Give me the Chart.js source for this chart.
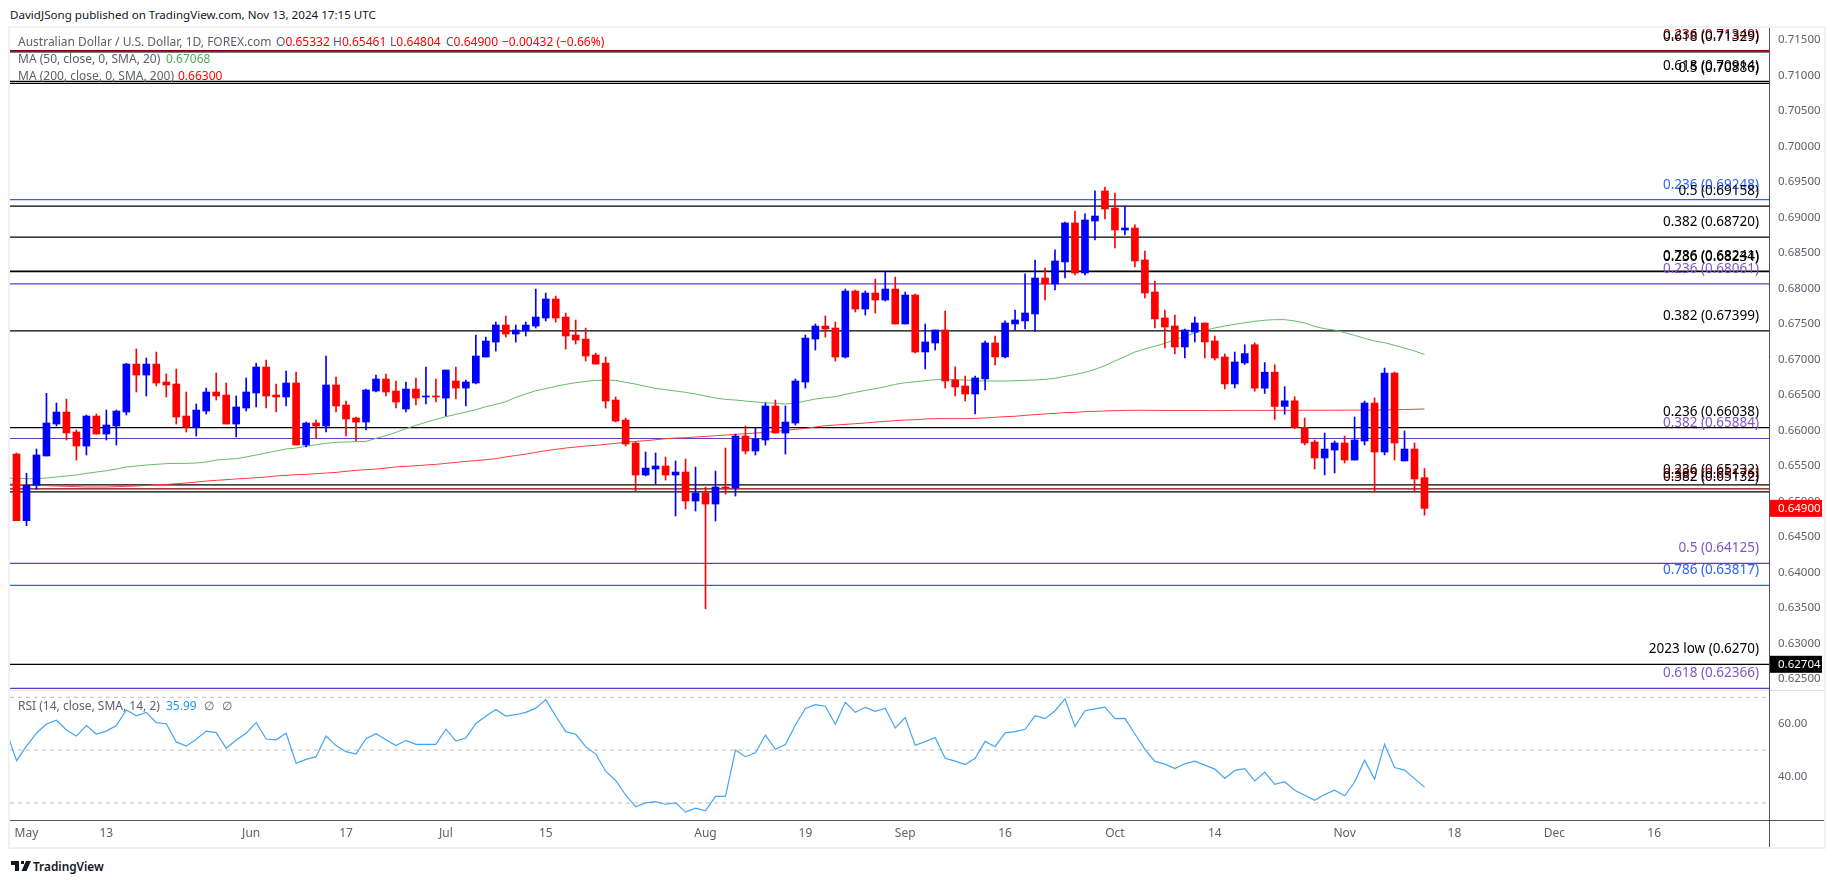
<!DOCTYPE html>
<html>
<head>
<meta charset="utf-8">
<script src="https://cdn.jsdelivr.net/npm/chart.js@4"></script>
<style>
	html, body { margin: 0; padding: 0; background: #fff; overflow: hidden; }
	body { width: 1835px; height: 883px; position: relative; font-family: "Noto Sans", sans-serif; }
	canvas { position: absolute; left: 10px; }
	.t { position: absolute; white-space: nowrap; line-height: 16px; font-size: 12px; color: #5d606b; }
	.r { color: #ff0000; }
	.bar { position: absolute; background: #f0f0f6; }
</style>
</head>
<body>
<div class="bar" style="left:8px;top:26px;width:1818px;height:2px"></div>
<div class="bar" style="left:8px;top:26px;width:2px;height:823px"></div>
<div class="bar" style="left:1824px;top:26px;width:2px;height:823px"></div>
<div class="bar" style="left:8px;top:847px;width:1818px;height:2px"></div>
<div class="bar" style="left:10px;top:690px;width:1814px;height:1px;background:#e0e3eb"></div>
<div class="bar" style="left:1769px;top:820px;width:1px;height:27px;background:#50535e"></div>
<div class="bar" style="left:1769px;top:820px;width:55px;height:1px;background:#50535e"></div>
<canvas id="price_chart" width="1814" height="662" style="top:28px"></canvas>
<canvas id="rsi_chart" width="1814" height="157" style="top:690px"></canvas>

<div class="t" style="left:10px;top:7px;color:#131722;font-size:11.6px">DavidJSong published on TradingView.com, Nov 13, 2024 17:15 UTC</div>
<div class="t" style="left:18px;top:34px">Australian Dollar / U.S. Dollar, 1D, FOREX.com</div>
<div class="t" style="left:276px;top:34px">O<span class="r">0.65332</span></div>
<div class="t" style="left:333px;top:34px">H<span class="r">0.65461</span></div>
<div class="t" style="left:390px;top:34px">L<span class="r">0.64804</span></div>
<div class="t" style="left:446px;top:34px">C<span class="r">0.64900</span></div>
<div class="t r" style="left:502px;top:34px">−0.00432 (−0.66%)</div>
<div class="t" style="left:18px;top:51px">MA (50, close, 0, SMA, 20)</div>
<div class="t" style="left:166px;top:51px;color:#4caf50">0.67068</div>
<div class="t" style="left:18px;top:68px">MA (200, close, 0, SMA, 200)</div>
<div class="t r" style="left:178px;top:68px">0.66300</div>
<div class="t" style="left:18px;top:698px">RSI (14, close, SMA, 14, 2)</div>
<div class="t" style="left:166px;top:698px;color:#2196f3">35.99</div>
<div class="t" style="left:204px;top:698px">∅</div>
<div class="t" style="left:222px;top:698px">∅</div>

<svg style="position:absolute;left:11px;top:860px" width="20" height="12" viewBox="0 0 20 12">
	<path d="M0 1h8v10H4V5H0z M10 1h3v3h-3z" fill="#131722"/>
	<path d="M15 1h5l-4.5 10h-5z" fill="#131722"/>
</svg>
<div class="t" style="left:33px;top:858px;color:#131722;font-weight:600;font-size:11.8px">TradingView</div>

<script>
const opens = [
	0.65666, 0.64727, 0.65224, 0.65638, 0.66088, 0.66257, 0.65976, 0.65778, 0.66201, 0.65947,
	0.66060, 0.66257, 0.66933, 0.66778, 0.66933, 0.66680, 0.66652, 0.66201, 0.66041, 0.66271,
	0.66539, 0.66497, 0.66088, 0.66314, 0.66525, 0.66891, 0.66497, 0.66469, 0.66666, 0.65793,
	0.66102, 0.66060, 0.66638, 0.66356, 0.66173, 0.66116, 0.66553, 0.66722, 0.66553, 0.66300,
	0.66581, 0.66469, 0.66483, 0.66454, 0.66694, 0.66595, 0.66666, 0.67032, 0.67243, 0.67483,
	0.67356, 0.67398, 0.67468, 0.67581, 0.67849, 0.67595, 0.67342, 0.67285, 0.67060, 0.66947,
	0.66426, 0.66144, 0.65820, 0.65370, 0.65454, 0.65497, 0.65370, 0.65412, 0.65004, 0.65116,
	0.64961, 0.65201, 0.65187, 0.65919, 0.65708, 0.65863, 0.66342, 0.65961, 0.66102, 0.66680,
	0.67285, 0.67468, 0.67440, 0.67032, 0.67961, 0.67708, 0.67933, 0.67835, 0.67989, 0.67497,
	0.67905, 0.67103, 0.67230, 0.67413, 0.66709, 0.66624, 0.66511, 0.66723, 0.67230, 0.67033,
	0.67497, 0.67540, 0.67638, 0.68145, 0.68061, 0.68371, 0.68920, 0.68216, 0.68948, 0.69371,
	0.69131, 0.68821, 0.68849, 0.68399, 0.67948, 0.67582, 0.67469, 0.67173, 0.67385, 0.67511,
	0.67258, 0.67033, 0.66652, 0.66949, 0.67205, 0.66593, 0.66818, 0.66336, 0.66415, 0.66042,
	0.65835, 0.65610, 0.65722, 0.65821, 0.65581, 0.65849, 0.66384, 0.65694, 0.66806, 0.65568,
	0.65736, 0.65332
];
const highs = [
	0.65680, 0.65393, 0.65736, 0.66520, 0.66384, 0.66440, 0.66004, 0.66215, 0.66229, 0.66285,
	0.66285, 0.66943, 0.67145, 0.67018, 0.67102, 0.66793, 0.66863, 0.66539, 0.66370, 0.66595,
	0.66807, 0.66666, 0.66483, 0.66736, 0.66947, 0.66990, 0.66652, 0.66835, 0.66821, 0.66116,
	0.66145, 0.67046, 0.66750, 0.66412, 0.66187, 0.66581, 0.66778, 0.66793, 0.66694, 0.66680,
	0.66736, 0.66891, 0.66722, 0.66849, 0.66891, 0.66708, 0.67342, 0.67314, 0.67525, 0.67609,
	0.67482, 0.67525, 0.67989, 0.67933, 0.67891, 0.67651, 0.67553, 0.67440, 0.67088, 0.67032,
	0.66468, 0.66173, 0.65835, 0.65694, 0.65680, 0.65623, 0.65567, 0.65595, 0.65482, 0.65201,
	0.65426, 0.65750, 0.65947, 0.66060, 0.66032, 0.66384, 0.66426, 0.66342, 0.66722, 0.67342,
	0.67497, 0.67609, 0.67525, 0.67989, 0.67975, 0.67961, 0.68130, 0.68243, 0.68158, 0.67947,
	0.67919, 0.67497, 0.67413, 0.67680, 0.66892, 0.66765, 0.66765, 0.67258, 0.67328, 0.67540,
	0.67694, 0.68202, 0.68399, 0.68286, 0.68540, 0.68934, 0.69089, 0.69047, 0.69371, 0.69427,
	0.69342, 0.69159, 0.68892, 0.68525, 0.68103, 0.67694, 0.67624, 0.67427, 0.67596, 0.67511,
	0.67328, 0.67075, 0.67103, 0.67205, 0.67231, 0.66954, 0.66923, 0.66614, 0.66472, 0.66173,
	0.65863, 0.65962, 0.65849, 0.65920, 0.66187, 0.66412, 0.66455, 0.66877, 0.66821, 0.65990,
	0.65821, 0.65461
];
const lows = [
	0.64727, 0.64656, 0.65168, 0.65638, 0.66060, 0.65863, 0.65581, 0.65652, 0.65947, 0.65863,
	0.65793, 0.66215, 0.66539, 0.66483, 0.66624, 0.66469, 0.66088, 0.65976, 0.65919, 0.66229,
	0.66426, 0.66088, 0.65905, 0.66271, 0.66328, 0.66314, 0.66257, 0.66342, 0.65793, 0.65764,
	0.65891, 0.65976, 0.66257, 0.65919, 0.65849, 0.66004, 0.66539, 0.66483, 0.66314, 0.66257,
	0.66356, 0.66370, 0.66398, 0.66201, 0.66440, 0.66342, 0.66652, 0.67032, 0.67116, 0.67314,
	0.67243, 0.67328, 0.67440, 0.67539, 0.67525, 0.67144, 0.67215, 0.66975, 0.66933, 0.66313,
	0.66116, 0.65778, 0.65144, 0.65356, 0.65243, 0.65299, 0.64792, 0.64891, 0.64863, 0.63487,
	0.64722, 0.65102, 0.65074, 0.65666, 0.65651, 0.65792, 0.65961, 0.65666, 0.66074, 0.66595,
	0.67130, 0.67313, 0.66975, 0.67018, 0.67666, 0.67623, 0.67651, 0.67820, 0.67497, 0.67497,
	0.67088, 0.66863, 0.67131, 0.66596, 0.66483, 0.66413, 0.66230, 0.66568, 0.66920, 0.67018,
	0.67413, 0.67427, 0.67394, 0.67835, 0.67976, 0.68145, 0.68187, 0.68187, 0.68680, 0.68976,
	0.68568, 0.68751, 0.68300, 0.67863, 0.67441, 0.67159, 0.67075, 0.67018, 0.67244, 0.67018,
	0.66990, 0.66582, 0.66596, 0.66928, 0.66551, 0.66519, 0.66153, 0.66226, 0.66022, 0.65793,
	0.65455, 0.65371, 0.65398, 0.65539, 0.65581, 0.65793, 0.65131, 0.65652, 0.65581, 0.65568,
	0.65145, 0.64804
];
const closes = [
	0.64727, 0.65224, 0.65652, 0.66102, 0.66257, 0.65962, 0.65778, 0.66201, 0.65947, 0.66074,
	0.66271, 0.66933, 0.66778, 0.66933, 0.66666, 0.66638, 0.66187, 0.66041, 0.66285, 0.66539,
	0.66483, 0.66088, 0.66328, 0.66539, 0.66891, 0.66483, 0.66469, 0.66666, 0.65793, 0.66102,
	0.66060, 0.66638, 0.66342, 0.66159, 0.66116, 0.66567, 0.66722, 0.66539, 0.66398, 0.66581,
	0.66454, 0.66483, 0.66469, 0.66849, 0.66595, 0.66680, 0.67046, 0.67257, 0.67483, 0.67356,
	0.67412, 0.67482, 0.67595, 0.67849, 0.67581, 0.67328, 0.67271, 0.67046, 0.66933, 0.66412,
	0.66130, 0.65806, 0.65370, 0.65468, 0.65497, 0.65370, 0.65412, 0.65004, 0.65116, 0.64961,
	0.65201, 0.65187, 0.65919, 0.65708, 0.65877, 0.66342, 0.65961, 0.66116, 0.66694, 0.67299,
	0.67468, 0.67426, 0.67032, 0.67961, 0.67708, 0.67933, 0.67835, 0.67989, 0.67497, 0.67905,
	0.67102, 0.67244, 0.67413, 0.66694, 0.66610, 0.66511, 0.66737, 0.67230, 0.67033, 0.67511,
	0.67554, 0.67652, 0.68145, 0.68061, 0.68385, 0.68920, 0.68216, 0.68962, 0.69018, 0.69117,
	0.68821, 0.68849, 0.68385, 0.67934, 0.67568, 0.67455, 0.67173, 0.67413, 0.67511, 0.67244,
	0.67018, 0.66652, 0.66962, 0.67080, 0.66593, 0.66818, 0.66336, 0.66415, 0.66038, 0.65821,
	0.65610, 0.65736, 0.65821, 0.65581, 0.65863, 0.66384, 0.65694, 0.66806, 0.65821, 0.65736,
	0.65314, 0.64900
];
// the averages and the RSI start one bar before the first candle
const ma_50 = [
	0.65328, 0.65323, 0.65318, 0.65318, 0.65328, 0.65342, 0.65356, 0.65370, 0.65393, 0.65412,
	0.65431, 0.65454, 0.65483, 0.65497, 0.65511, 0.65520, 0.65530, 0.65534, 0.65534, 0.65539,
	0.65553, 0.65581, 0.65591, 0.65600, 0.65624, 0.65652, 0.65680, 0.65708, 0.65736, 0.65750,
	0.65774, 0.65797, 0.65816, 0.65830, 0.65835, 0.65839, 0.65844, 0.65886, 0.65924, 0.65971,
	0.66023, 0.66069, 0.66112, 0.66154, 0.66192, 0.66224, 0.66257, 0.66290, 0.66332, 0.66365,
	0.66403, 0.66464, 0.66511, 0.66558, 0.66586, 0.66619, 0.66647, 0.66670, 0.66689, 0.66703,
	0.66703, 0.66703, 0.66675, 0.66651, 0.66619, 0.66590, 0.66572, 0.66553, 0.66534, 0.66511,
	0.66482, 0.66454, 0.66435, 0.66426, 0.66412, 0.66398, 0.66388, 0.66379, 0.66370, 0.66384,
	0.66412, 0.66440, 0.66459, 0.66473, 0.66506, 0.66534, 0.66562, 0.66586, 0.66614, 0.66647,
	0.66670, 0.66684, 0.66699, 0.66713, 0.66713, 0.66713, 0.66708, 0.66699, 0.66694, 0.66694,
	0.66694, 0.66699, 0.66704, 0.66708, 0.66718, 0.66732, 0.66760, 0.66784, 0.66816, 0.66859,
	0.66910, 0.66976, 0.67037, 0.67103, 0.67145, 0.67183, 0.67225, 0.67272, 0.67324, 0.67370,
	0.67408, 0.67441, 0.67469, 0.67493, 0.67515, 0.67535, 0.67550, 0.67558, 0.67558, 0.67540,
	0.67510, 0.67465, 0.67430, 0.67412, 0.67375, 0.67337, 0.67295, 0.67258, 0.67234, 0.67196,
	0.67159, 0.67117, 0.67068
];
const ma_200 = [
	0.65243, 0.65238, 0.65229, 0.65224, 0.65220, 0.65215, 0.65210, 0.65206, 0.65201, 0.65201,
	0.65201, 0.65206, 0.65210, 0.65215, 0.65224, 0.65234, 0.65238, 0.65248, 0.65257, 0.65271,
	0.65285, 0.65295, 0.65304, 0.65314, 0.65323, 0.65332, 0.65342, 0.65356, 0.65365, 0.65375,
	0.65379, 0.65389, 0.65398, 0.65407, 0.65422, 0.65436, 0.65445, 0.65454, 0.65468, 0.65483,
	0.65492, 0.65501, 0.65511, 0.65520, 0.65534, 0.65548, 0.65562, 0.65572, 0.65586, 0.65600,
	0.65625, 0.65645, 0.65665, 0.65689, 0.65712, 0.65731, 0.65750, 0.65764, 0.65778, 0.65787,
	0.65802, 0.65816, 0.65830, 0.65844, 0.65853, 0.65867, 0.65881, 0.65891, 0.65895, 0.65905,
	0.65914, 0.65924, 0.65933, 0.65942, 0.65952, 0.65961, 0.65971, 0.65985, 0.65999, 0.66013,
	0.66027, 0.66046, 0.66064, 0.66074, 0.66083, 0.66093, 0.66102, 0.66116, 0.66126, 0.66135,
	0.66144, 0.66149, 0.66159, 0.66164, 0.66164, 0.66164, 0.66164, 0.66168, 0.66173, 0.66183,
	0.66192, 0.66197, 0.66211, 0.66220, 0.66230, 0.66239, 0.66248, 0.66253, 0.66262, 0.66267,
	0.66272, 0.66277, 0.66280, 0.66282, 0.66282, 0.66280, 0.66278, 0.66278, 0.66278, 0.66278,
	0.66278, 0.66277, 0.66278, 0.66280, 0.66280, 0.66280, 0.66280, 0.66280, 0.66282, 0.66282,
	0.66282, 0.66282, 0.66282, 0.66283, 0.66283, 0.66284, 0.66285, 0.66285, 0.66287, 0.66289,
	0.66292, 0.66296, 0.66300
];
const rsi = [
	57.0, 46.0, 51.5, 56.4, 59.9, 61.3, 57.6, 55.3, 59.3, 56.1,
	57.2, 59.3, 65.2, 63.0, 64.3, 60.4, 60.0, 53.1, 51.5, 54.1,
	57.2, 56.6, 50.7, 53.8, 56.4, 60.5, 54.2, 53.9, 56.4, 45.0,
	46.5, 47.5, 55.3, 51.7, 49.4, 48.5, 54.3, 56.2, 53.9, 51.7,
	53.7, 52.2, 52.2, 52.2, 57.9, 53.4, 54.6, 60.1, 62.8, 65.4,
	62.9, 63.4, 64.3, 65.9, 69.1, 62.9, 57.0, 56.0, 51.3, 48.5,
	42.0, 38.5, 33.0, 28.5, 30.0, 30.5, 29.5, 30.0, 26.5, 28.0,
	27.0, 32.5, 32.5, 50.0, 47.5, 49.0, 55.7, 50.3, 52.1, 59.5,
	65.8, 67.2, 66.6, 59.8, 68.1, 64.3, 66.2, 64.7, 65.9, 58.4,
	62.3, 51.8, 53.2, 54.8, 46.9, 45.8, 44.5, 46.9, 53.3, 51.3,
	56.5, 57.0, 57.9, 63.0, 61.9, 64.9, 69.4, 59.0, 64.9, 65.6,
	66.3, 61.9, 62.0, 56.1, 50.3, 45.7, 44.7, 43.0, 44.8, 45.8,
	44.3, 42.8, 39.3, 42.3, 43.0, 38.3, 41.7, 37.0, 38.0, 34.8,
	32.9, 31.0, 33.2, 34.8, 32.7, 37.8, 46.2, 39.0, 52.2, 43.4,
	42.4, 39.2, 35.99
];

const level_prices = [0.71349, 0.71329, 0.70914, 0.70886, 0.69248, 0.69158, 0.68720, 0.68241, 0.68234, 0.68061, 0.67399, 0.66038, 0.65884, 0.65232, 0.65176, 0.65132, 0.64125, 0.63817, 0.62704, 0.62366];
const level_labels = ['0.236 (0.71349)', '0.618 (0.71329)', '0.618 (0.70914)', '0.5 (0.70886)', '0.236 (0.69248)', '0.5 (0.69158)', '0.382 (0.68720)', '0.786 (0.68241)', '0.236 (0.68234)', '0.236 (0.68061)', '0.382 (0.67399)', '0.236 (0.66038)', '0.382 (0.65884)', '0.236 (0.65232)', '0.389 (0.65176)', '0.382 (0.65132)', '0.5 (0.64125)', '0.786 (0.63817)', '2023 low (0.6270)', '0.618 (0.62366)'];
const BLACK = '#000000', PURPLE = '#673ab7', BLUE = '#2962ff', DARK_RED = '#8b0000';
const level_colors = [DARK_RED, BLACK, BLACK, BLACK, BLUE, BLACK, BLACK, BLACK, BLACK, PURPLE, BLACK, BLACK, PURPLE, BLACK, DARK_RED, BLACK, PURPLE, BLUE, BLACK, PURPLE];

const price_ticks = [0.625, 0.63, 0.635, 0.64, 0.645, 0.65, 0.655, 0.66, 0.665, 0.67, 0.675, 0.68, 0.685, 0.69, 0.695, 0.70, 0.705, 0.71, 0.715];
const rsi_ticks = [40, 60];
const rsi_bands = [70, 50, 30];
const date_ticks = [1, 9, 23.5, 33, 43, 53, 69, 79, 89, 99, 110, 120, 133, 144, 154, 164];
const date_labels = ['May', '13', 'Jun', '17', 'Jul', '15', 'Aug', '19', 'Sep', '16', 'Oct', '14', 'Nov', '18', 'Dec', '16'];

const X_MIN = -0.651, X_MAX = 175.5;
const FONT = '"Noto Sans", sans-serif';
const AXIS_COLOR = '#50535e';
const TEXT_COLOR = '#5d606b';

function candle_color(i) {
	return closes[i] >= opens[i] ? '#0000ff' : '#ff0000';
}

function flat_line(value) {
	return [{x: X_MIN, y: value}, {x: X_MAX, y: value}];
}

function series_points(values) {
	return values.map((v, k) => { return {x: k - 1, y: v} });
}

function line_dataset(data, color, width, order) {
	return {
		type: 'line',
		data: data,
		borderColor: color,
		borderWidth: width,
		pointRadius: 0,
		tension: 0,
		order: order
	};
}

// scale.fit() otherwise insets the plot area by half a label height + 6px
function no_label_padding(axis) {
	axis._calculatePadding = () => {};
}

function date_axis(show) {
	return {
		type: 'linear',
		display: show,
		min: X_MIN,
		max: X_MAX,
		offset: false,
		grid: {display: false, drawTicks: false},
		border: {display: true, color: AXIS_COLOR, width: 1},
		afterBuildTicks: (axis) => { axis.ticks = date_ticks.map((v) => { return {value: v} }) },
		beforeFit: no_label_padding,
		afterFit: (axis) => { axis.height = show ? 26.8 : 0 },
		ticks: {
			autoSkip: false,
			maxRotation: 0,
			padding: 6,
			color: TEXT_COLOR,
			font: {family: FONT, size: 12},
			callback: (v) => { return date_labels[date_ticks.indexOf(v)] }
		}
	};
}

function value_axis(min, max, ticks, digits) {
	return {
		position: 'right',
		min: min,
		max: max,
		grid: {display: false, drawTicks: false},
		border: {display: true, color: AXIS_COLOR, width: 1},
		afterBuildTicks: (axis) => { axis.ticks = ticks.map((v) => { return {value: v} }) },
		beforeFit: no_label_padding,
		afterFit: (axis) => { axis.width = 55 },
		ticks: {
			padding: 9,
			color: TEXT_COLOR,
			font: {family: FONT, size: 11.5},
			callback: (v) => { return v.toFixed(digits) }
		}
	};
}

// labels above the fibonacci lines and the two price tags on the axis
const level_text_plugin = {
	id: 'level_text',
	afterDraw(chart) {
		let ctx = chart.ctx;
		let y = chart.scales.y;
		ctx.save();
		ctx.font = '13.5px ' + FONT;
		ctx.textAlign = 'right';
		ctx.textBaseline = 'middle';
		for (let i = 0; i < level_prices.length; i++) {
			ctx.fillStyle = level_colors[i] == PURPLE ? '#7e57c2' : level_colors[i];
			ctx.fillText(level_labels[i], chart.chartArea.right - 10, y.getPixelForValue(level_prices[i]) - 15);
		}
		draw_tag(ctx, chart, closes[closes.length - 1], '#ff0000');
		draw_tag(ctx, chart, 0.62704, '#000000');
		ctx.restore();
	}
};

function draw_tag(ctx, chart, value, color) {
	let y = chart.scales.y.getPixelForValue(value);
	let left = chart.chartArea.right + 1;
	ctx.fillStyle = color;
	ctx.fillRect(left, y - 8.5, 52, 17);
	ctx.fillStyle = '#ffffff';
	ctx.font = '11.5px ' + FONT;
	ctx.textAlign = 'left';
	ctx.fillText(value.toFixed(5), left + 8, y + 0.5);
	ctx.font = '13.5px ' + FONT;
	ctx.textAlign = 'right';
}

let level_sets = level_prices.map((p, i) => { return line_dataset(flat_line(p), level_colors[i], 1.2, 4) });

new Chart(document.getElementById('price_chart'), {
	type: 'bar',
	data: {
		datasets: [
			{
				data: closes.map((c, i) => { return {x: i, y: [opens[i], c]} }),
				backgroundColor: closes.map((c, i) => candle_color(i)),
				barThickness: 7,
				grouped: false,
				order: 1
			},
			{
				data: closes.map((c, i) => { return {x: i, y: [lows[i], highs[i]]} }),
				backgroundColor: closes.map((c, i) => candle_color(i)),
				barThickness: 1,
				grouped: false,
				order: 2
			},
			line_dataset(series_points(ma_50), '#66bb6a', 1, 3),
			line_dataset(series_points(ma_200), '#ff3b3b', 1, 3)
		].concat(level_sets)
	},
	options: {
		responsive: false,
		animation: false,
		layout: {autoPadding: false, padding: 0},
		plugins: {legend: {display: false}, tooltip: {enabled: false}},
		scales: {
			x: date_axis(false),
			y: value_axis(0.62342, 0.71666, price_ticks, 5)
		}
	},
	plugins: [level_text_plugin]
});

new Chart(document.getElementById('rsi_chart'), {
	type: 'line',
	data: {
		datasets: rsi_bands.map((b) => {
			let band = line_dataset(flat_line(b), '#bdbdbd', 1, 2);
			band.borderDash = [4, 4];
			return band;
		}).concat([line_dataset(series_points(rsi), '#42a5f5', 1.2, 1)])
	},
	options: {
		responsive: false,
		animation: false,
		layout: {autoPadding: false, padding: 0},
		plugins: {legend: {display: false}, tooltip: {enabled: false}},
		scales: {
			x: date_axis(true),
			y: value_axis(23.45, 72.76, rsi_ticks, 2)
		}
	}
});
</script>
</body>
</html>
